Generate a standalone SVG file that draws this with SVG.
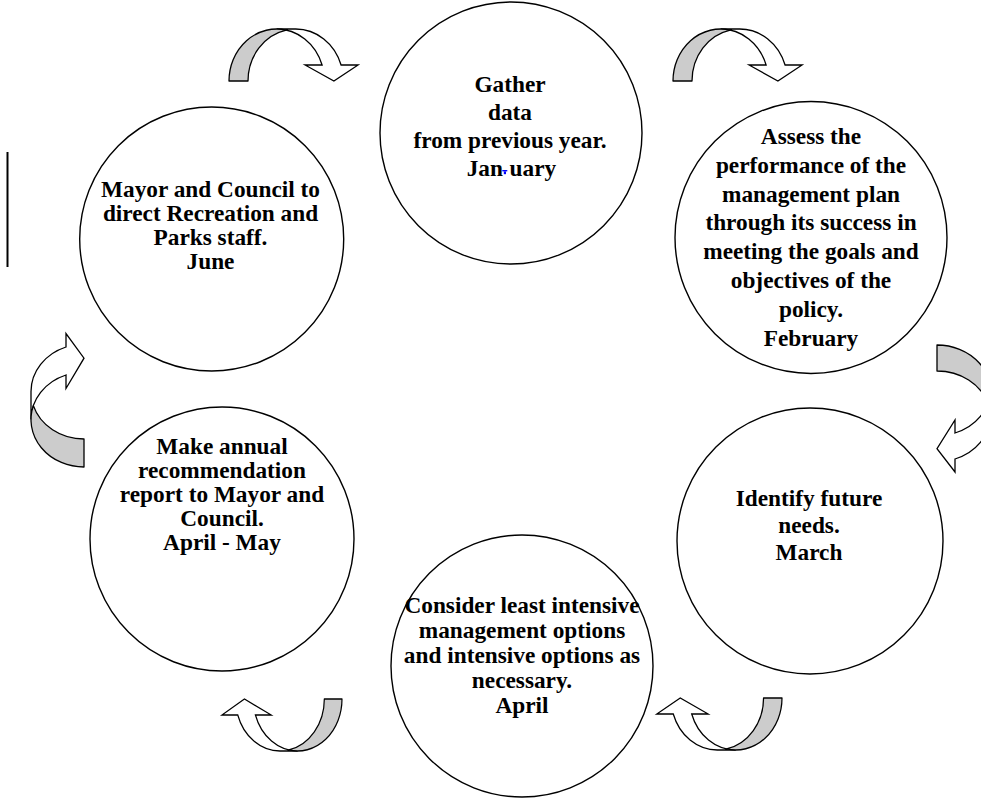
<svg xmlns="http://www.w3.org/2000/svg" width="981" height="801" viewBox="0 0 981 801">
<defs>
<style>
.node ellipse{fill:#ffffff;stroke:#000000;stroke-width:1.4}
.lbl{font-family:"Liberation Serif","Times New Roman",serif;font-weight:bold;font-size:23.3px;fill:#000000;text-anchor:middle}
.gray{fill:#cccccc;stroke:#000000;stroke-width:1.3;stroke-linejoin:round}
.white{fill:#ffffff;stroke:#000000;stroke-width:1.3;stroke-linejoin:miter}
</style>
<g id="arrowS">
<path class="white" d="M93.09,-16 A47.7,52 0 0 0 47.7,-52 L66.7,-52 A47.7,52 0 0 1 112.09,-16 L129.09,-16 L104.9,0 L76.09,-16 Z"/>
<path class="gray" d="M0,0 A47.7,52 0 0 1 57.2,-50.96 A47.7,52 0 0 0 19,0 Z"/>
</g>
<g id="arrowT">
<path class="white" d="M92,-18 A47.41,53 0 0 0 47.41,-53 L75.41,-53 A47.41,53 0 0 1 120,-18 L133.5,-18 L108.8,0 L78.5,-18 Z"/>
<path class="gray" d="M0,0 A47.41,53 0 0 1 61.41,-50.64 A47.41,53 0 0 0 28,0 Z"/>
</g>
<g id="arrowC">
<path class="white" d="M88,-18 A45.35,53 0 0 0 45.35,-53 L71.35,-53 A45.35,53 0 0 1 114,-18 L127,-18 L103.7,0 L75,-18 Z"/>
<path class="gray" d="M0,0 A45.35,53 0 0 1 58.35,-50.78 A45.35,53 0 0 0 26,0 Z"/>
</g>
</defs>
<rect width="981" height="801" fill="#ffffff"/>
<line x1="7.5" y1="152" x2="7.5" y2="267" stroke="#000000" stroke-width="2"/>
<g id="connectors">
<use href="#arrowS" transform="translate(229,81)"/>
<use href="#arrowS" transform="translate(673,81)"/>
<use href="#arrowC" transform="translate(937,345) rotate(90)"/>
<use href="#arrowS" transform="translate(782,698) rotate(180) scale(0.97,1)"/>
<use href="#arrowS" transform="translate(342,699) rotate(180) scale(0.93,1)"/>
<use href="#arrowT" transform="translate(84,467) rotate(-90)"/>
</g>
<g id="gather" class="node">
<ellipse cx="511" cy="133" rx="131" ry="131"/>
<text class="lbl" x="510" y="92">Gather</text>
<text class="lbl" x="510" y="120">data</text>
<text class="lbl" x="510" y="147.5">from previous year.</text>
<text class="lbl" x="466.7" y="175.5" style="text-anchor:start">Jan<tspan dx="6.6">uary</tspan></text>
<rect x="502.3" y="170" width="5" height="1.4" fill="#0000ff"/>
<rect x="503.8" y="171.4" width="2.2" height="2.8" fill="#0000ff"/>
</g>
<g id="mayor" class="node">
<ellipse cx="211.7" cy="239" rx="132" ry="132"/>
<text class="lbl" x="210.5" y="197">Mayor and Council to</text>
<text class="lbl" x="210.5" y="221">direct Recreation and</text>
<text class="lbl" x="210.5" y="245">Parks staff.</text>
<text class="lbl" x="210.5" y="269">June</text>
</g>
<g id="assess" class="node">
<ellipse cx="811" cy="237.5" rx="136" ry="136"/>
<text class="lbl" x="811" y="144">Assess the</text>
<text class="lbl" x="811" y="172.8">performance of the</text>
<text class="lbl" x="811" y="201.6">management plan</text>
<text class="lbl" x="811" y="230.4">through its success in</text>
<text class="lbl" x="811" y="259.2">meeting the goals and</text>
<text class="lbl" x="811" y="288">objectives of the</text>
<text class="lbl" x="811" y="316.8">policy.</text>
<text class="lbl" x="811" y="345.6">February</text>
</g>
<g id="identify" class="node">
<ellipse cx="810" cy="541" rx="133" ry="133"/>
<text class="lbl" x="809" y="506">Identify future</text>
<text class="lbl" x="809" y="533">needs.</text>
<text class="lbl" x="809" y="560">March</text>
</g>
<g id="consider" class="node">
<ellipse cx="522" cy="666" rx="131" ry="131"/>
<text class="lbl" x="522" y="613">Consider least intensive</text>
<text class="lbl" x="522" y="638">management options</text>
<text class="lbl" x="522" y="663">and intensive options as</text>
<text class="lbl" x="522" y="688">necessary.</text>
<text class="lbl" x="522" y="713">April</text>
</g>
<g id="annual" class="node">
<ellipse cx="222" cy="539" rx="132" ry="132"/>
<text class="lbl" x="222" y="454">Make annual</text>
<text class="lbl" x="222" y="478">recommendation</text>
<text class="lbl" x="222" y="502">report to Mayor and</text>
<text class="lbl" x="222" y="526">Council.</text>
<text class="lbl" x="222" y="550">April - May</text>
</g>
</svg>
